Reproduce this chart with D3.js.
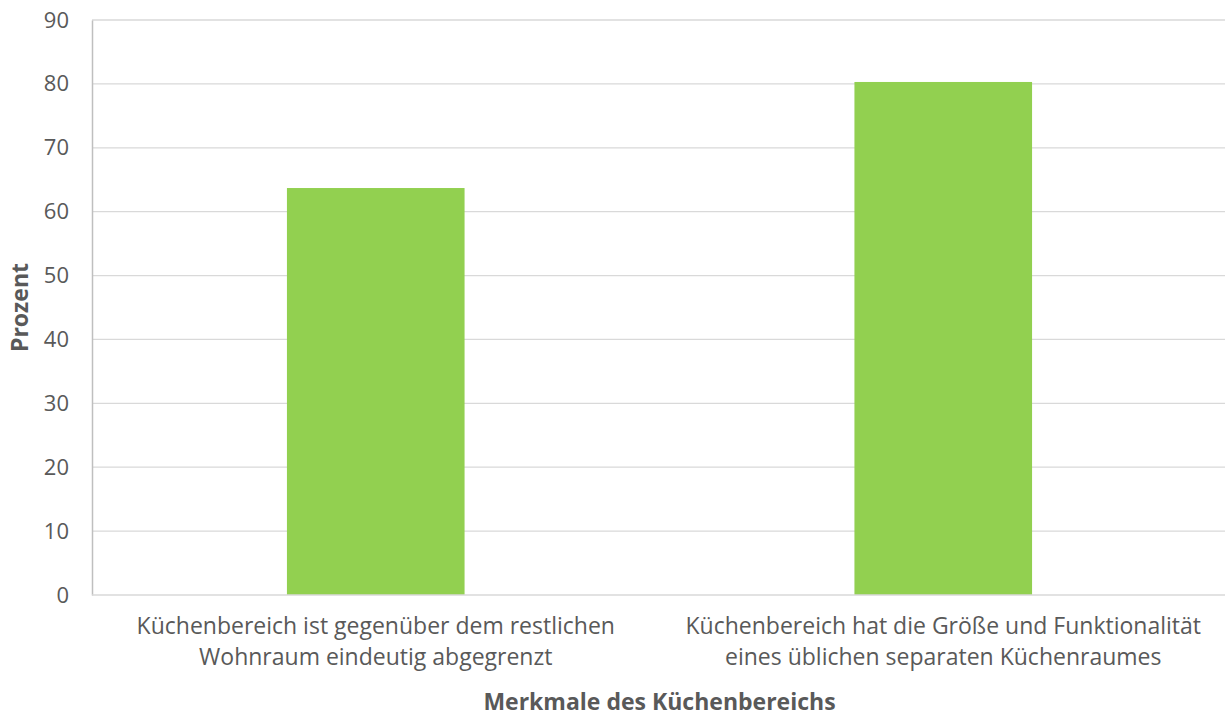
<!DOCTYPE html>
<html>
<head>
<meta charset="utf-8">
<script src="https://cdn.jsdelivr.net/npm/d3@7"></script>
<style>
  html, body { margin: 0; padding: 0; background: #fff; }
  svg { display: block; font-family: "Open Sans", sans-serif; }
</style>
</head>
<body>
<svg id="chart" width="1225" height="716"></svg>
<script>
// Categories (each label split into two lines) and their percentages
const categories = [
  ["Küchenbereich ist gegenüber dem restlichen", "Wohnraum eindeutig abgegrenzt"],
  ["Küchenbereich hat die Größe und Funktionalität", "eines üblichen separaten Küchenraumes"]
];
const values = [63.7, 80.3];
const yTicks = [0, 10, 20, 30, 40, 50, 60, 70, 80, 90];
const yTitle = "Prozent";
const xTitle = "Merkmale des Küchenbereichs";

const svg = d3.select("#chart");
const plot = { left: 92, right: 1227, top: 20, bottom: 595 };
const tickFont = "22px";
const labelFont = "23px";

const x = d3.scaleBand()
  .domain(d3.range(categories.length))
  .range([plot.left, plot.right])
  .paddingInner(0.687)
  .paddingOuter(0.3435);

const y = d3.scaleLinear().domain([0, 90]).range([plot.bottom, plot.top]);

// Horizontal gridlines
svg.append("g")
  .selectAll("line")
  .data(yTicks.filter(d => d > 0))
  .join("line")
  .attr("x1", plot.left).attr("x2", plot.right)
  .attr("y1", d => y(d)).attr("y2", d => y(d))
  .attr("stroke", "#d9d9d9").attr("stroke-width", 1.3);

// Bars
svg.append("g")
  .selectAll("rect")
  .data(values)
  .join("rect")
  .attr("x", (d, i) => x(i))
  .attr("width", x.bandwidth())
  .attr("y", d => y(d))
  .attr("height", d => y(0) - y(d))
  .attr("fill", "#92d050");

// Y axis
const yAxis = svg.append("g")
  .attr("transform", `translate(${plot.left},0)`)
  .call(d3.axisLeft(y).tickValues(yTicks).tickSize(0).tickPadding(23));
yAxis.select(".domain").attr("stroke", "#bfbfbf").attr("stroke-width", 1.5);
yAxis.selectAll("text")
  .attr("fill", "#595959")
  .style("font-size", tickFont)
  .style("font-family", "'Open Sans', sans-serif");

// X axis baseline
svg.append("line")
  .attr("x1", plot.left).attr("x2", plot.right)
  .attr("y1", y(0)).attr("y2", y(0))
  .attr("stroke", "#d9d9d9").attr("stroke-width", 1.5);

// Category labels
const catG = svg.append("g");
categories.forEach((lines, i) => {
  const cx = x(i) + x.bandwidth() / 2;
  const t = catG.append("text")
    .attr("x", cx)
    .attr("y", 634)
    .attr("text-anchor", "middle")
    .attr("fill", "#595959")
    .style("font-size", labelFont);
  lines.forEach((ln, j) => {
    t.append("tspan")
      .attr("x", cx)
      .attr("dy", j === 0 ? 0 : 31)
      .text(ln);
  });
});

// Axis titles
svg.append("text")
  .attr("transform", `translate(28,${(plot.top + plot.bottom) / 2}) rotate(-90)`)
  .attr("text-anchor", "middle")
  .attr("fill", "#595959")
  .style("font-size", labelFont)
  .style("font-weight", "bold")
  .text(yTitle);

svg.append("text")
  .attr("x", (plot.left + plot.right) / 2)
  .attr("y", 710)
  .attr("text-anchor", "middle")
  .attr("fill", "#595959")
  .style("font-size", labelFont)
  .style("font-weight", "bold")
  .text(xTitle);
</script>
</body>
</html>
